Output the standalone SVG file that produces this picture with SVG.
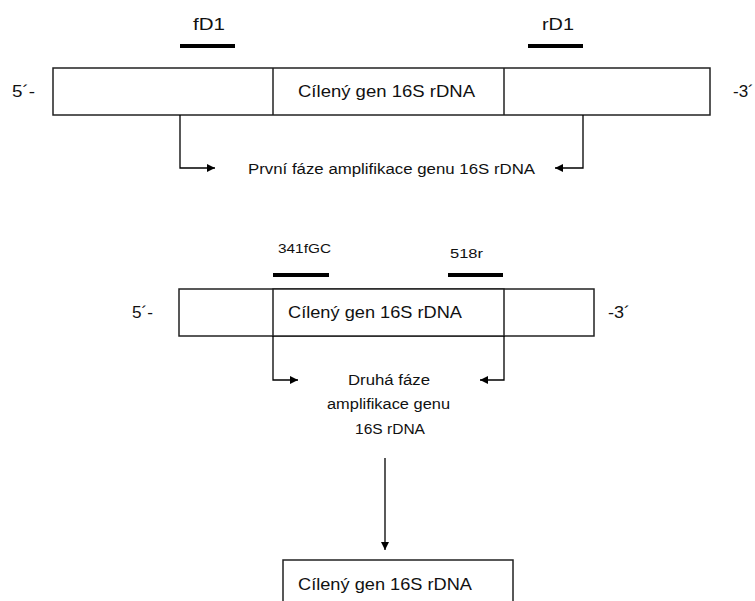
<svg xmlns="http://www.w3.org/2000/svg" width="755" height="601" viewBox="0 0 755 601">
<defs>
<style>
text{font-family:"Liberation Sans",Arial,sans-serif;fill:#111;}
.big{font-size:17px;}
.sm{font-size:14px;}
.xs{font-size:12.5px;}
.box{fill:#fff;stroke:#222;stroke-width:1.5;}
.bar{stroke:#000;stroke-width:4;}
.con{fill:none;stroke:#000;stroke-width:1.3;}
</style>
<marker id="ah" viewBox="0 0 10 10" refX="10" refY="5" markerWidth="10" markerHeight="8" markerUnits="userSpaceOnUse" orient="auto"><path d="M0,0 L10,5 L0,10 Z" fill="#000"/></marker>
</defs>
<rect width="755" height="601" fill="#fff"/>

<g id="top-strand">
<rect class="box" x="53" y="68" width="657" height="47"/>
<line x1="273" y1="68" x2="273" y2="115" stroke="#222" stroke-width="1.5"/>
<line x1="504" y1="68" x2="504" y2="115" stroke="#222" stroke-width="1.5"/>
<text class="big" x="298" y="97" textLength="177" lengthAdjust="spacingAndGlyphs">Cílený gen 16S rDNA</text>
<text class="big" x="12" y="97" textLength="23" lengthAdjust="spacingAndGlyphs">5´-</text>
<text class="big" x="733" y="97">-3´</text>
</g>
<g id="fD1">
<line class="bar" x1="180" y1="46" x2="235" y2="46"/>
<text class="big" x="193" y="30" textLength="32" lengthAdjust="spacingAndGlyphs">fD1</text>
</g>
<g id="rD1">
<line class="bar" x1="528" y1="46" x2="583" y2="46"/>
<text class="big" x="542" y="30" textLength="32" lengthAdjust="spacingAndGlyphs">rD1</text>
</g>
<g id="phase1">
<text class="sm" x="248" y="174" textLength="287" lengthAdjust="spacingAndGlyphs">První fáze amplifikace genu 16S rDNA</text>
</g>

<g id="mid-strand">
<rect class="box" x="179" y="289" width="415" height="47"/>
<rect class="box" x="273" y="289" width="231" height="47" stroke-width="2"/>
<text class="big" x="288" y="318" textLength="174" lengthAdjust="spacingAndGlyphs">Cílený gen 16S rDNA</text>
<text class="big" x="132" y="318" textLength="21" lengthAdjust="spacingAndGlyphs">5´-</text>
<text class="big" x="608" y="318" textLength="22" lengthAdjust="spacingAndGlyphs">-3´</text>
</g>
<g id="p341fGC">
<line class="bar" x1="273" y1="275" x2="329" y2="275"/>
<text class="xs" x="278" y="253" textLength="53" lengthAdjust="spacingAndGlyphs">341fGC</text>
</g>
<g id="p518r">
<line class="bar" x1="448" y1="275" x2="503" y2="275"/>
<text class="xs" x="450" y="258" textLength="33" lengthAdjust="spacingAndGlyphs">518r</text>
</g>
<g id="phase2">
<text class="sm" x="348" y="385" textLength="82" lengthAdjust="spacingAndGlyphs">Druhá fáze</text>
<text class="sm" x="327" y="409" textLength="123" lengthAdjust="spacingAndGlyphs">amplifikace genu</text>
<text class="sm" x="355" y="434" textLength="70" lengthAdjust="spacingAndGlyphs">16S rDNA</text>
</g>

<g id="result">
<rect class="box" x="283" y="560" width="230" height="50"/>
<text class="big" x="298" y="590" textLength="174" lengthAdjust="spacingAndGlyphs">Cílený gen 16S rDNA</text>
</g>

<g id="connectors">
<path class="con" d="M180,115 V168 H215" marker-end="url(#ah)"/>
<path class="con" d="M583,115 V168 H555" marker-end="url(#ah)"/>
<path class="con" d="M273,336 V380 H298" marker-end="url(#ah)"/>
<path class="con" d="M504,336 V380 H480" marker-end="url(#ah)"/>
<path class="con" d="M385,458 V550" marker-end="url(#ah)"/>
</g>
</svg>
